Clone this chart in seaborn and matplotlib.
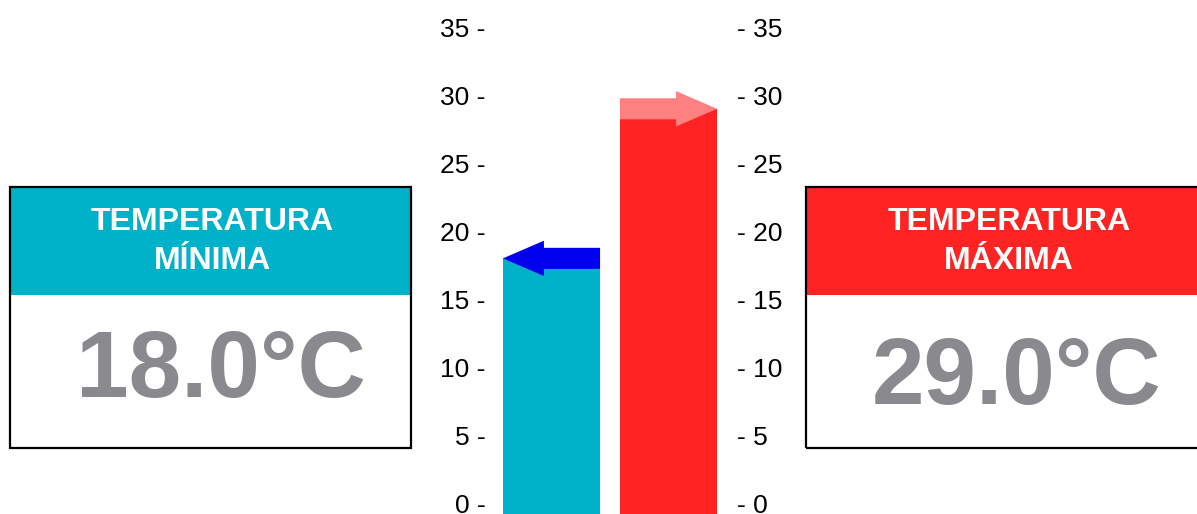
import matplotlib
matplotlib.use("Agg")
import matplotlib.pyplot as plt
from matplotlib.patches import Rectangle, FancyArrow
import seaborn as sns

# Daily temperature readings
categories = ["Mínima", "Máxima"]
values = [18.0, 29.0]
titles = ["TEMPERATURA\nMÍNIMA", "TEMPERATURA\nMÁXIMA"]
bar_colors = ["#00B2C9", "#FF2424"]
arrow_colors = ["#0000EE", "#FF8080"]
ticks = [0, 5, 10, 15, 20, 25, 30, 35]

sns.set_style("white")
plt.rcParams["font.family"] = ["Liberation Sans", "DejaVu Sans"]

W, H = 1197, 514
fig = plt.figure(figsize=(W / 100, H / 100), dpi=100)
fig.patch.set_facecolor("white")


def fx(px):
    return px / W


def fy(py):
    return 1 - py / H


# Central bar chart
ylo, yhi = -0.8, 37.0
ax = fig.add_axes([fx(490), 0, fx(730) - fx(490), 1])
sns.barplot(x=categories, y=values, hue=categories, palette=bar_colors,
            legend=False, width=0.83, saturation=1, ax=ax, linewidth=0)
# let the columns run down to the bottom edge of the plot area
for bar in ax.patches:
    top_val = bar.get_y() + bar.get_height()
    bar.set_y(ylo)
    bar.set_height(top_val - ylo)
ax.set_xlim(-0.526, 1.526)
ax.set_ylim(ylo, yhi)
ax.set_xticks([])
ax.set_xlabel("")
ax.set_ylabel("")
ax.set_yticks(ticks)
ax.set_yticklabels([f"{t} -" for t in ticks])
ax.tick_params(axis="y", length=0, pad=3, labelsize=19, labelcolor="black")
for s in ax.spines.values():
    s.set_visible(False)
ax.set_facecolor("none")

ax2 = ax.twinx()
ax2.set_ylim(ax.get_ylim())
ax2.set_yticks(ticks)
ax2.set_yticklabels([f"- {t}" for t in ticks])
ax2.tick_params(axis="y", length=0, pad=5, labelsize=19, labelcolor="black")
for s in ax2.spines.values():
    s.set_visible(False)

# Arrows marking each value at the top of its bar
half = 0.83 / 2
for i, (v, c) in enumerate(zip(values, arrow_colors)):
    if i == 0:
        x0, dx = i + half, -2 * half
    else:
        x0, dx = i - half, 2 * half
    ax.add_patch(FancyArrow(x0, v, dx, 0, width=1.55, head_width=2.6,
                            head_length=0.35, length_includes_head=True,
                            color=c, linewidth=0, zorder=5))

# Side panels
panels = [
    dict(x0=10, x1=411, tx=212, vx=221, vy=397),
    dict(x0=806, x1=1200, tx=1009, vx=1017, vy=404),
]
top, head_bot, bot = 187, 295, 448
for p, title, v, c in zip(panels, titles, values, bar_colors):
    x0, x1 = p["x0"], p["x1"]
    fig.add_artist(Rectangle((fx(x0), fy(head_bot)), fx(x1) - fx(x0),
                             fy(top) - fy(head_bot), transform=fig.transFigure,
                             facecolor=c, edgecolor="none", zorder=1))
    fig.add_artist(Rectangle((fx(x0), fy(bot)), fx(x1) - fx(x0),
                             fy(top) - fy(bot), transform=fig.transFigure,
                             facecolor="none", edgecolor="black", linewidth=1.6,
                             zorder=2))
    for k, line in enumerate(title.split("\n")):
        fig.text(fx(p["tx"]), fy(230 + 39 * k), line, ha="center", va="baseline",
                 color="white", fontsize=23, fontweight="bold", zorder=3)
    fig.text(fx(p["vx"]), fy(p["vy"]), f"{v:.1f}°C", ha="center", va="baseline",
             color="#8A8A8E", fontsize=68, fontweight="bold", zorder=3)

fig.savefig("out.png", dpi=100, facecolor="white")
